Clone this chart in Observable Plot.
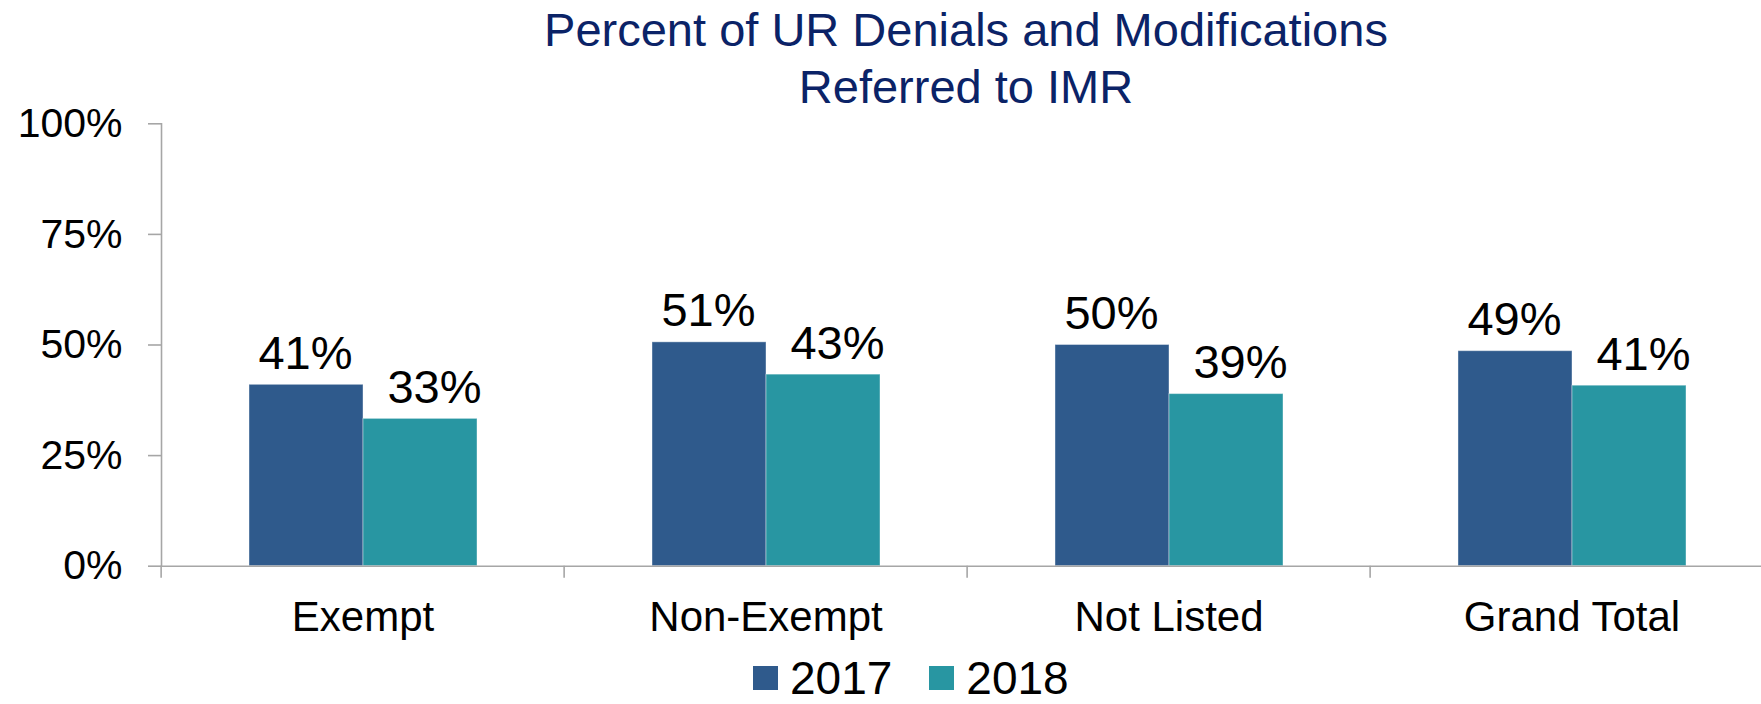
<!DOCTYPE html>
<html><head><meta charset="utf-8">
<script src="https://cdn.jsdelivr.net/npm/d3@7"></script>
<script src="https://cdn.jsdelivr.net/npm/@observablehq/plot@0.6"></script>
<style>
html,body{margin:0;padding:0;background:#fff;width:1761px;height:704px;overflow:hidden;font-family:"Liberation Sans",Arial,sans-serif;}
#title{height:100px;box-sizing:border-box;padding-top:1px;padding-left:171px;text-align:center;color:#0B2367;font-size:47px;line-height:57px;white-space:nowrap;}
#chart svg{display:block}
#legend{display:flex;align-items:center;height:47px;line-height:47px;padding-left:753px;font-size:46px;color:#000}
.sw{width:25px;height:24px;margin-right:12px}
.item{display:flex;align-items:center;margin-right:37px}
</style>
</head><body>
<div id="title"></div>
<div id="chart"></div>
<div id="legend"></div>
<script>
const titleLines = ["Percent of UR Denials and Modifications", "Referred to IMR"];
const categories = ["Exempt", "Non-Exempt", "Not Listed", "Grand Total"];
const years = ["2017", "2018"];
const values2017 = [0.410, 0.506, 0.500, 0.486];
const values2018 = [0.333, 0.433, 0.389, 0.408];
const yTicks = [0, 0.25, 0.5, 0.75, 1];
const colors = ["#2F5A8C", "#2896A2"];

const table = [];
categories.forEach((c, i) => {
  table.push({category: c, year: years[0], value: values2017[i]});
  table.push({category: c, year: years[1], value: values2018[i]});
});

const W = 1761, H = 554.6, mL = 159, mR = -13, mT = 23.3, mB = 88.9;
const band = (W - mR - mL) / categories.length;
const axisGray = "#A6A6A6";
const font = '"Liberation Sans", Arial, sans-serif';
const pct = v => Math.round(v * 100) + "%";

const plot = Plot.plot({
  width: W, height: H,
  marginTop: mT, marginBottom: mB, marginLeft: mL, marginRight: mR,
  style: {fontFamily: font, background: "none", overflow: "visible"},
  fx: {domain: categories, padding: 0, label: null},
  x: {domain: years, paddingInner: 0, paddingOuter: 0.7555, axis: null},
  y: {domain: [0, 1], label: null},
  color: {domain: years, range: colors},
  marks: [
    Plot.barY(table, {fx: "category", x: "year", y: "value", fill: "year", stroke: "white", strokeOpacity: 0.4, strokeWidth: 1}),
    Plot.ruleY([0], {stroke: axisGray, strokeWidth: 1.6}),
    Plot.frame({anchor: "left", facet: "super", stroke: axisGray, strokeWidth: 1.6}),
    Plot.axisY({ticks: yTicks, tickFormat: pct, tickSize: 13, tickPadding: 26, fontSize: 41, stroke: axisGray, strokeWidth: 1.6, fill: "black", label: null}),
    Plot.axisFx({anchor: "bottom", tickSize: 12, tickFormat: () => "", dx: -band / 2, stroke: axisGray, strokeWidth: 1.6, label: null}),
    Plot.axisFx({anchor: "bottom", tickSize: 0, tickPadding: 35, fontSize: 42, fill: "black", label: null}),
    Plot.text(table, {filter: d => d.year === years[0], fx: "category", x: "year", y: "value", text: d => pct(d.value), lineAnchor: "bottom", dy: -16, dx: -1, fontSize: 47, fill: "black"}),
    Plot.text(table, {filter: d => d.year === years[1], fx: "category", x: "year", y: "value", text: d => pct(d.value), lineAnchor: "bottom", dy: -16, dx: 14, fontSize: 47, fill: "black"})
  ]
});
document.getElementById("chart").appendChild(plot);

const t = document.getElementById("title");
titleLines.forEach(s => { const d = document.createElement("div"); d.textContent = s; t.appendChild(d); });

const lg = document.getElementById("legend");
years.forEach((y, i) => {
  const it = document.createElement("div"); it.className = "item";
  const sw = document.createElement("div"); sw.className = "sw"; sw.style.background = colors[i];
  const tx = document.createElement("span"); tx.textContent = y;
  it.appendChild(sw); it.appendChild(tx); lg.appendChild(it);
});
</script>
</body></html>
